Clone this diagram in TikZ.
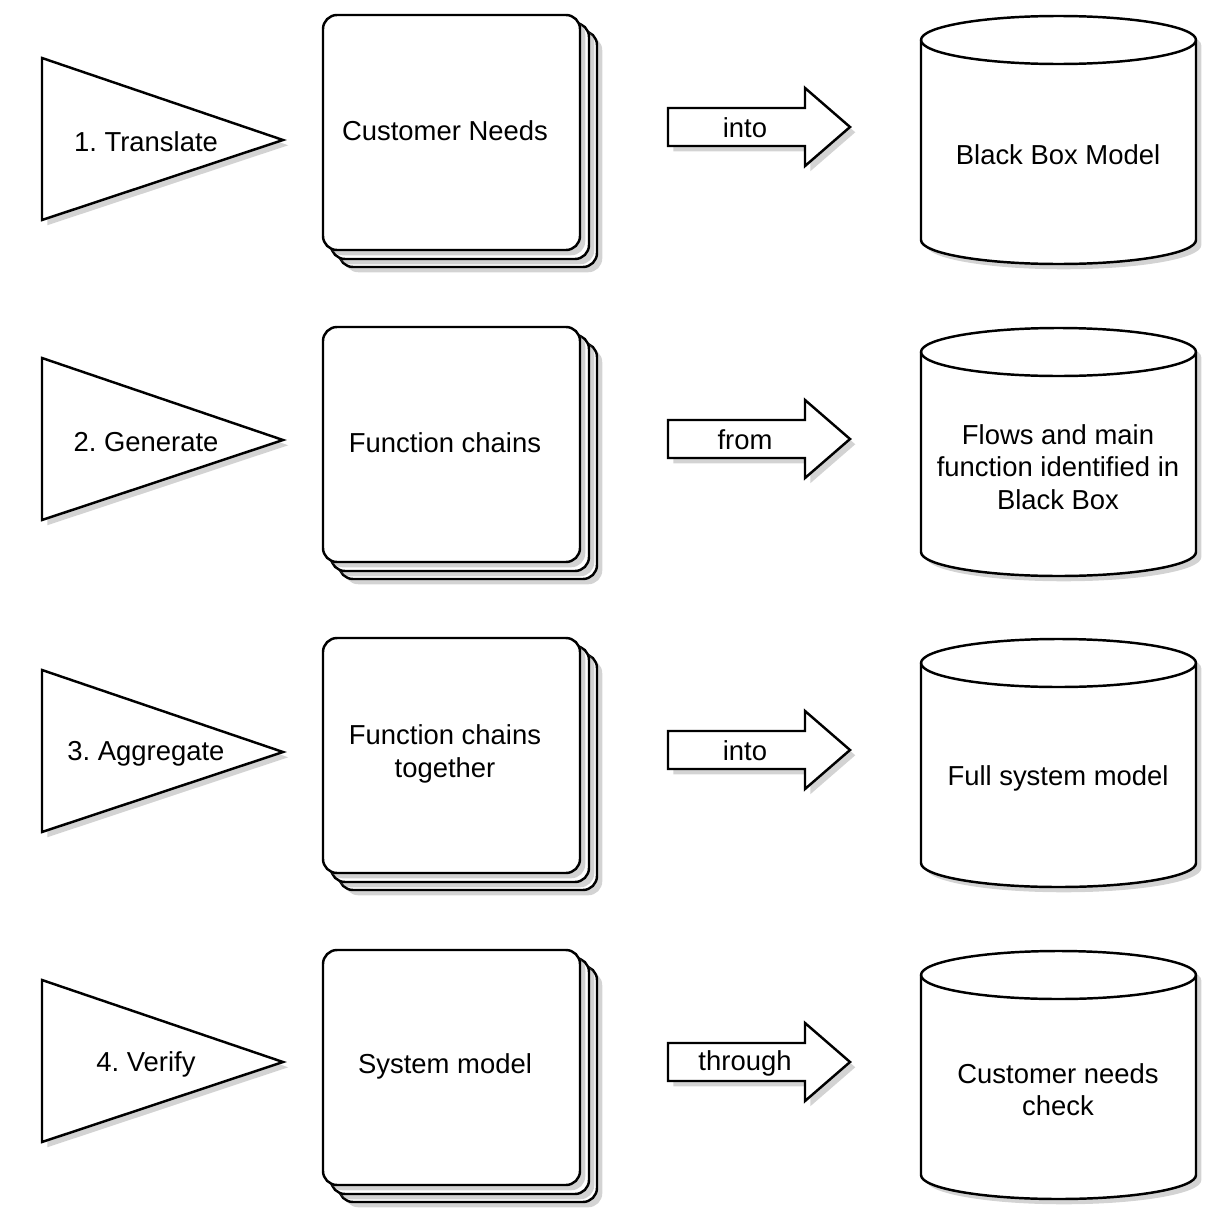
\documentclass[tikz,border=0pt]{standalone}
\usepackage{fontspec}
\setmainfont{Liberation Sans}
\usetikzlibrary{shadows}
\frenchspacing
\begin{document}
\begin{tikzpicture}[x=0.01cm,y=-0.01cm,
  shp/.style={draw=black,line width=0.7pt,fill=white,drop shadow={shadow xshift=1.5pt,shadow yshift=-1.5pt,opacity=0.35}},
  lbl/.style={font=\fontsize{7.8}{9.2}\selectfont,align=center}]
\useasboundingbox (0,0) rectangle (1230,1230);
\foreach \dy/\tr/\a/\b/\c/\d/\n in {0/0/1. Translate/Customer Needs/into/Black Box Model/1,
 312/300/2. Generate/Function chains/from/{Flows and main\\function identified in\\Black Box}/2,
 623/612/3. Aggregate/{Function chains\\together}/into/Full system model/3,
 935/922/4. Verify/System model/through/{Customer needs\\check}/4}{
 \begin{scope}[yshift=-\tr*0.01cm]
  \draw[shp] (42,58) -- (283,140) -- (42,220) -- cycle;
  \node[lbl] (t\n) at (146,142) {\a};
 \end{scope}
 \begin{scope}[yshift=-\dy*0.01cm]
  \draw[shp,rounded corners=4pt] (339,31) rectangle (597,267);
  \draw[shp,rounded corners=4pt] (331,23) rectangle (589,259);
  \draw[shp,rounded corners=4pt] (323,15) rectangle (580,250);
  \node[lbl] (b\n) at (445,131) {\b};
  \draw[shp] (668,108) -- (805,108) -- (805,88) -- (850,127) -- (805,166) -- (805,146) -- (668,146) -- cycle;
  \node[lbl] (a\n) at (745,128) {\c};
  \draw[shp] (921,40) arc[start angle=180,end angle=360,x radius=137.5,y radius=24] -- (1196,240) arc[start angle=0,end angle=180,x radius=137.5,y radius=24] -- cycle;
  \draw[line width=0.7pt] (921,40) arc[start angle=180,end angle=0,x radius=137.5,y radius=24];
  \node[lbl] (c\n) at (1058,155) {\d};
 \end{scope}}
\end{tikzpicture}
\end{document}
